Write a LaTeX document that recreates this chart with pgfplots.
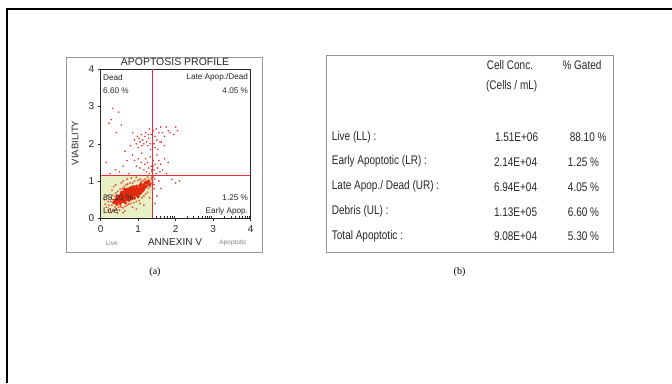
\documentclass[border=0pt]{standalone}
\usepackage{pgfplots}
\pgfplotsset{compat=1.18}
\usepackage{fontspec}
\setmainfont{Liberation Sans}
\newfontfamily\narrowfont{Liberation Sans}[FakeStretch=0.80]
\newfontfamily\seriffont{Liberation Serif}
\definecolor{coreRed}{RGB}{226,40,14}
\definecolor{haloRed}{RGB}{236,90,60}
\definecolor{dotRed}{RGB}{232,60,60}
\definecolor{gateRed}{RGB}{232,44,56}
\definecolor{liveFill}{RGB}{232,240,198}
\definecolor{boxGray}{RGB}{150,150,150}
\definecolor{txtDark}{RGB}{40,40,40}
\begin{document}
\begin{tikzpicture}[x=1bp,y=1bp]
\useasboundingbox (0,0) rectangle (672,383);
\fill[white] (0,0) rectangle (672,383);
\draw[line width=2bp] (7.3,0) -- (7.3,374) -- (672,374);
% panel (a) box
\draw[boxGray, line width=0.8bp] (66.7,131) rectangle (262,326);
\begin{axis}[
  at={(100.7bp,164.7bp)}, anchor=south west,
  scale only axis, width=150bp, height=149bp,
  xmin=0, xmax=4, ymin=0, ymax=4,
  xtick={0,1,2,3,4}, ytick={0,1,2,3,4},
  xtick pos=bottom, ytick pos=left,
  tick align=outside, major tick length=3bp,
  axis line style={draw=txtDark, line width=0.7bp},
  every tick/.style={txtDark, line width=0.6bp},
  tick label style={font=\fontsize{10bp}{11bp}\selectfont, text=txtDark},
  /pgf/number format/assume math mode=true,
  xticklabel style={yshift=-0.5bp},
  extra x ticks={0.301,0.477,0.602,0.699,0.778,0.845,0.903,0.954,
                 1.301,1.477,1.602,1.699,1.778,1.845,1.903,1.954,
                 2.301,2.477,2.602,2.699,2.778,2.845,2.903,2.954,
                 3.301,3.477,3.602,3.699,3.778,3.845,3.903,3.954},
  extra x tick labels={},
  extra x tick style={tick align=inside, major tick length=2.5bp},
  clip=true,
]
\addplot[fill=liveFill, draw=none] coordinates {(0,0)(1.39,0)(1.39,1.16)(0,1.16)} -- cycle;
% halo points
\addplot[only marks, mark=*, mark size=0.75bp, color=haloRed, mark options={draw=none}] coordinates {
(0.15,0.30)(0.20,0.45)(0.25,0.25)(0.28,0.55)(0.30,0.35)(0.32,0.62)(0.35,0.20)(0.38,0.30)(0.40,0.68)(0.42,0.25)
(0.45,0.72)(0.48,0.30)(0.50,0.22)(0.52,0.78)(0.55,0.30)(0.58,0.80)(0.60,0.28)(0.62,0.85)(0.65,0.32)(0.68,0.90)
(0.70,0.35)(0.72,0.92)(0.75,0.38)(0.78,0.95)(0.80,0.40)(0.85,0.95)(0.88,0.42)(0.90,1.00)(0.95,0.45)(1.00,1.02)
(1.02,0.48)(1.05,1.05)(1.10,0.55)(1.12,1.02)(1.15,0.60)(1.18,1.05)(1.20,0.65)(1.25,0.70)(1.28,0.80)(1.32,0.85)
(1.35,0.95)(1.35,1.05)(1.38,0.75)(1.40,1.10)(0.10,0.50)(0.18,0.60)(0.22,0.35)(0.30,0.75)(0.35,0.85)(0.25,0.15)
(0.45,0.15)(0.65,0.20)(0.85,0.30)(1.05,0.40)(0.55,0.95)(0.70,1.05)(0.95,1.10)(1.25,1.10)(0.12,0.38)(0.27,0.45)
(0.33,0.50)(0.38,0.58)(0.43,0.62)(0.47,0.36)(0.53,0.34)(1.30,0.98)(1.33,0.92)(1.22,1.00)(1.16,0.98)(1.08,0.98)
(0.20,0.20)(0.60,0.15)(0.95,0.25)(1.15,0.35)(1.30,0.55)(0.40,0.90)(0.60,1.00)(0.82,1.08)};
% dense core
\addplot[only marks, mark=*, mark size=1.5bp, color=coreRed, mark options={draw=none}] coordinates {
(0.35,0.42)(0.40,0.50)(0.42,0.38)(0.45,0.55)(0.48,0.45)(0.50,0.60)(0.52,0.40)(0.55,0.50)(0.55,0.65)(0.58,0.55)
(0.60,0.45)(0.60,0.70)(0.62,0.60)(0.63,0.52)(0.65,0.66)(0.66,0.42)(0.68,0.58)(0.68,0.74)(0.70,0.50)(0.70,0.64)
(0.72,0.70)(0.72,0.56)(0.74,0.78)(0.75,0.62)(0.75,0.48)(0.77,0.68)(0.78,0.55)(0.78,0.74)(0.80,0.62)(0.80,0.82)
(0.82,0.70)(0.82,0.52)(0.84,0.66)(0.85,0.76)(0.86,0.58)(0.88,0.72)(0.88,0.84)(0.90,0.64)(0.90,0.54)(0.92,0.78)
(0.93,0.70)(0.95,0.86)(0.95,0.62)(0.97,0.74)(0.98,0.68)(1.00,0.80)(1.00,0.58)(1.02,0.72)(1.04,0.88)(1.05,0.66)
(1.06,0.78)(1.08,0.92)(1.10,0.72)(1.12,0.84)(1.14,0.76)(1.16,0.90)(1.18,0.82)(1.20,0.96)(1.22,0.86)(1.25,0.94)
(1.28,1.00)(1.30,0.90)(0.45,0.48)(0.50,0.52)(0.57,0.60)(0.62,0.48)(0.64,0.72)(0.67,0.62)(0.70,0.58)(0.73,0.66)
(0.76,0.72)(0.79,0.66)(0.81,0.58)(0.83,0.78)(0.86,0.68)(0.89,0.62)(0.91,0.72)(0.94,0.66)(0.96,0.80)(0.99,0.74)
(1.01,0.66)(1.03,0.80)(1.07,0.72)(1.09,0.84)(1.11,0.78)(1.15,0.84)(0.74,0.60)(0.77,0.64)(0.80,0.70)(0.84,0.60)
(0.87,0.76)(0.92,0.68)(0.66,0.52)(0.60,0.58)(0.54,0.46)(0.58,0.64)(0.71,0.78)(0.79,0.80)(0.86,0.84)(0.94,0.74)
(1.00,0.70)(0.83,0.72)(0.76,0.56)(0.69,0.68)(0.38,0.46)(0.43,0.44)(0.47,0.58)(0.52,0.56)(0.56,0.70)(0.64,0.78)};
% sparse points
\addplot[only marks, mark=*, mark size=0.6bp, color=dotRed, mark options={draw=none}] coordinates {
(0.28,2.65)(0.48,2.85)(0.32,2.95)(0.22,2.55)(0.55,2.50)(0.42,2.30)
(0.90,2.10)(0.95,2.00)(0.98,2.20)(1.00,1.90)(1.02,2.15)(1.05,2.05)(1.08,2.25)(1.10,1.95)(1.12,2.10)(1.15,2.00)
(1.18,2.20)(1.20,2.30)(1.22,2.05)(1.25,1.95)(1.28,2.15)(1.30,2.40)(1.32,2.00)(1.35,2.25)(1.38,2.10)(1.40,2.35)
(1.42,2.00)(1.45,2.20)(1.48,2.40)(1.50,2.10)(1.55,2.30)(1.58,2.05)(1.60,2.45)(1.65,2.30)(1.70,2.20)(1.75,2.45)
(1.80,2.35)(1.85,2.30)(2.00,2.45)(1.95,2.25)(2.05,2.35)(1.62,2.05)(1.70,1.95)(1.52,1.85)(1.45,1.90)
(0.85,1.70)(0.90,1.55)(0.95,1.40)(1.00,1.60)(1.05,1.35)(1.08,1.50)(1.10,1.75)(1.15,1.30)(1.18,1.45)(1.20,1.60)
(1.22,1.25)(1.25,1.50)(1.28,1.35)(1.30,1.20)(1.32,1.65)(1.35,1.40)(1.37,1.25)(1.40,1.55)(1.42,1.30)(1.45,1.45)
(1.48,1.20)(1.50,1.70)(1.52,1.35)(1.55,1.55)(1.58,1.25)(1.60,1.45)(1.65,1.30)(1.70,1.60)(1.75,1.20)(1.80,1.50)
(2.00,0.95)(2.10,1.00)(1.90,1.05)(1.55,1.00)(1.60,0.80)(1.50,0.60)(1.45,0.40)(1.42,0.90)
(0.60,1.40)(0.70,1.55)(0.75,1.20)(0.50,1.25)(0.40,1.30)(0.65,1.80)(0.80,1.95)(0.25,1.20)(0.15,1.50)(0.85,2.30)
(1.36,1.10)(1.38,1.02)(1.41,1.15)(1.44,1.05)(1.39,0.95)(1.43,0.80)(1.36,1.30)(1.40,1.40)(1.33,1.85)(1.27,2.25)};
% gate lines
\addplot[gateRed, line width=1.1bp] coordinates {(1.39,0)(1.39,4)};
\addplot[gateRed, line width=1.1bp] coordinates {(0,1.16)(4,1.16)};
\end{axis}
% quadrant labels, on top of the points
\begin{scope}[every node/.style={font=\fontsize{8.2bp}{9bp}\selectfont, text=txtDark, inner sep=0pt}]
\node[anchor=west] at (103,305.9) {Dead};
\node[anchor=west] at (103,292.8) {6.60 \%};
\node[anchor=east] at (248.2,305.9) {Late Apop./Dead};
\node[anchor=east] at (248.2,292.8) {4.05 \%};
\node[anchor=east] at (248.2,185.6) {1.25 \%};
\node[anchor=east] at (248.2,172.1) {Early Apop.};
\node[anchor=west] at (103,185.6) {88.10 \%};
\node[anchor=west] at (103,172.1) {Live};
\end{scope}
% panel (a) titles
\node[font=\fontsize{10.5bp}{12bp}\selectfont, text=txtDark] at (175,321.5) {APOPTOSIS PROFILE};
\node[rotate=90, font=\fontsize{9.5bp}{11bp}\selectfont, text=txtDark] at (75,240) {VIABILITY};
\node[font=\fontsize{10bp}{12bp}\selectfont, text=txtDark] at (175,140.5) {ANNEXIN V};
\node[font=\fontsize{6.5bp}{8bp}\selectfont, text=gray] at (111.7,140) {Live};
\node[font=\fontsize{6.5bp}{8bp}\selectfont, text=gray] at (233,140) {Apoptotic};
\node[font=\seriffont\fontsize{10bp}{12bp}\selectfont] at (155,111) {(a)};
% panel (b) table
\draw[boxGray, line width=0.8bp] (326,131) rectangle (613.3,328);
\begin{scope}[every node/.style={font=\narrowfont\fontsize{12.5bp}{14bp}\selectfont, text=txtDark, inner sep=0pt}]
\node at (510,318) {Cell Conc.};
\node at (511.7,296.3) {(Cells / mL)};
\node at (582,318) {\% Gated};
\node[anchor=west] at (331.7,245.7) {Live (LL) :};
\node[anchor=west] at (331.7,221.3) {Early Apoptotic (LR) :};
\node[anchor=west] at (331.7,196.3) {Late Apop./ Dead (UR) :};
\node[anchor=west] at (331.7,171.3) {Debris (UL) :};
\node[anchor=west] at (331.7,147) {Total Apoptotic :};
\node[anchor=east] at (538.3,245.7) {1.51E+06};
\node[anchor=east] at (537.3,221.3) {2.14E+04};
\node[anchor=east] at (537.3,196.3) {6.94E+04};
\node[anchor=east] at (537.3,171.3) {1.13E+05};
\node[anchor=east] at (537.3,147) {9.08E+04};
\node[anchor=east] at (606.7,245.7) {88.10 \%};
\node[anchor=east] at (599.3,221.3) {1.25 \%};
\node[anchor=east] at (599.3,196.3) {4.05 \%};
\node[anchor=east] at (599.3,171.3) {6.60 \%};
\node[anchor=east] at (599.3,147) {5.30 \%};
\end{scope}
\node[font=\seriffont\fontsize{10bp}{12bp}\selectfont] at (459.5,111) {(b)};
\end{tikzpicture}
\end{document}
